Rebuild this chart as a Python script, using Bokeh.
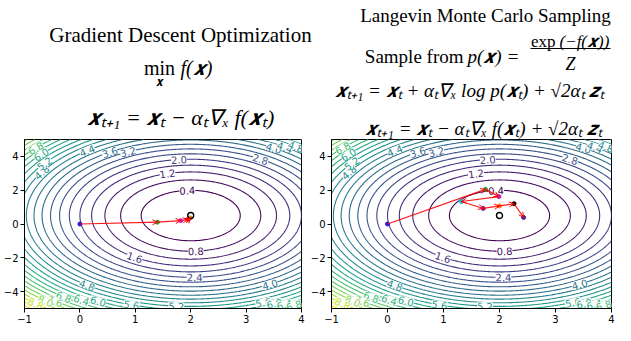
import numpy as np
from bokeh.plotting import figure
from bokeh.layouts import row, column
from bokeh.models import Range1d, FixedTicker, Arrow, OpenHead, ColumnDataSource
from bokeh.palettes import viridis
from bokeh.core.properties import value
from bokeh.embed import file_html
from bokeh.resources import INLINE

# ---- objective f(x) = COEF_X*(x1-MU_X)^2 + COEF_Y*(x2-MU_Y)^2 ----
MU_X, MU_Y = 2.0, 0.5
COEF_X, COEF_Y = 0.5, 0.18
LEVELS = [0.4, 0.8, 1.2, 1.6, 2.0, 2.4, 2.8, 3.2, 3.6, 4.0, 4.4, 4.8,
          5.2, 5.6, 6.0, 6.4, 6.8, 7.2, 7.6, 8.0, 8.4, 8.8, 9.2, 9.6]
X_TICKS = [-1, 0, 1, 2, 3, 4]
Y_TICKS = [-4, -2, 0, 2, 4]

# gradient descent iterates
GD_X = [0.0, 1.40, 1.82, 1.95, 1.98, 1.99]
GD_Y = [0.0, 0.11, 0.20, 0.27, 0.32, 0.36]
GD_COLORS = ["#1f1fe0", "#2ca02c", "#d62ad6", "#d62728", "#e377c2", "#ff7f0e"]

# Langevin iterates
LMC_X = [0.0, 1.75, 1.99, 1.32, 1.71, 2.00, 2.26, 2.43]
LMC_Y = [0.0, 2.05, 1.62, 1.33, 0.92, 1.07, 1.20, 0.39]
LMC_COLORS = ["#1f1fe0", "#2ca02c", "#c020c0", "#17becf", "#7f1fa0", "#ff7f0e", "#000000", "#4b1fa0"]

# contour labels: (level, side, x position along the contour)
CLABELS = [
    (0.4, "top", 1.94), (1.2, "top", 1.58), (2.0, "top", 1.79), (2.8, "top", 3.26),
    (3.2, "top", 0.87), (3.6, "top", 0.54), (4.4, "top", 0.13),
    (4.0, "top", 3.50), (4.4, "top", 3.70), (4.8, "top", 3.90),
    (4.8, "top", -0.69), (5.2, "top", -0.64), (6.0, "top", -0.70), (6.8, "top", -0.80),
    (0.8, "bottom", 2.09), (1.6, "bottom", 0.99), (2.4, "bottom", 2.07), (4.0, "bottom", 3.43),
    (4.8, "bottom", 0.13), (5.2, "bottom", 1.74), (5.6, "bottom", 0.93),
    (6.0, "bottom", 0.33), (6.4, "bottom", 0.03), (6.8, "bottom", -0.29),
    (5.6, "bottom", 3.31), (6.0, "bottom", 3.51), (6.4, "bottom", 3.69), (6.8, "bottom", 3.86),
    (7.6, "bottom", -0.45), (8.0, "bottom", -0.62), (8.8, "bottom", -0.80),
]

COLORS = list(viridis(len(LEVELS)))
MINUS = "\u2212"
SERIF = value("Liberation Serif")

PLOT_H = 186
HEAD_H = 139
LW, RW = 307, 308
TOTAL_W = LW + RW

X = "\U0001D499"   # bold italic x
Z_ = "\U0001D49B"  # bold italic z
T = "\u209C"       # subscript t


def tick_text(v):
    return (MINUS + str(-v)) if v < 0 else str(v)


def make_panel(width, left, right, px, py, pcolors):
    p = figure(width=width, height=PLOT_H, x_range=Range1d(-1, 4), y_range=Range1d(-5, 5),
               output_backend="svg", toolbar_location=None,
               min_border_left=left, min_border_right=right, min_border_top=0, min_border_bottom=0)
    p.xgrid.visible = False
    p.ygrid.visible = False
    p.outline_line_color = "black"
    p.outline_line_width = 1
    p.background_fill_color = "white"

    gx = np.linspace(-1, 4, 240)
    gy = np.linspace(-5, 5, 240)
    GX, GY = np.meshgrid(gx, gy)
    Z = COEF_X * (GX - MU_X) ** 2 + COEF_Y * (GY - MU_Y) ** 2
    p.contour(gx, gy, Z, LEVELS, line_color=COLORS, line_width=1.1)

    # contour labels
    fw = width - left - right
    fh = PLOT_H - 20
    sx, sy = fw / 5.0, fh / 10.0
    lx, ly, lt, la, lc = [], [], [], [], []
    for lev, side, xv in CLABELS:
        r = (lev - COEF_X * (xv - MU_X) ** 2) / COEF_Y
        if r <= 0:
            continue
        yv = MU_Y + (np.sqrt(r) if side == "top" else -np.sqrt(r))
        dfdu = 2 * COEF_X * (xv - MU_X) / sx
        dfdv = 2 * COEF_Y * (yv - MU_Y) / sy
        ang = np.arctan2(dfdu, -dfdv)
        if ang > np.pi / 2:
            ang -= np.pi
        if ang < -np.pi / 2:
            ang += np.pi
        lx.append(xv); ly.append(yv); lt.append(f"{lev:.1f}"); la.append(ang)
        lc.append(COLORS[LEVELS.index(lev)])
    src = ColumnDataSource(dict(x=lx, y=ly, text=lt, angle=la, color=lc))
    p.text(x="x", y="y", text="text", angle="angle", text_color="color", source=src,
           text_font=value("DejaVu Sans"), text_font_size=value("10px"),
           text_align="center", text_baseline="middle",
           background_fill_color="white")

    # path arrows
    asrc = ColumnDataSource(dict(x0=px[:-1], y0=py[:-1], x1=px[1:], y1=py[1:]))
    p.add_layout(Arrow(end=OpenHead(size=5, line_color="red", line_width=1),
                       source=asrc, x_start="x0", y_start="y0", x_end="x1", y_end="y1",
                       line_color="red", line_width=1.2, line_alpha=0.9))
    p.scatter(px, py, size=4, color=pcolors)
    p.scatter([MU_X], [MU_Y], size=6, fill_color=None, line_color="black", line_width=1.4)

    for ax in (p.xaxis[0], p.yaxis[0]):
        ax.major_tick_in = 0
        ax.major_tick_out = 4
        ax.minor_tick_in = 0
        ax.minor_tick_out = 0
        ax.major_label_standoff = 2
        ax.axis_line_color = "black"
        ax.major_tick_line_color = "black"
        ax.major_label_text_color = "black"
        ax.major_label_text_font = "DejaVu Sans"
        ax.major_label_text_font_size = "10px"
    p.xaxis.ticker = FixedTicker(ticks=X_TICKS)
    p.yaxis.ticker = FixedTicker(ticks=Y_TICKS)
    p.xaxis.major_label_overrides = {v: tick_text(v) for v in X_TICKS}
    p.yaxis.major_label_overrides = {v: tick_text(v) for v in Y_TICKS}
    return p


h = figure(width=TOTAL_W, height=HEAD_H, x_range=Range1d(0, TOTAL_W), y_range=Range1d(0, HEAD_H),
           output_backend="svg", toolbar_location=None, min_border=0,
           x_axis_type=None, y_axis_type=None)
h.xgrid.visible = False
h.ygrid.visible = False
h.outline_line_color = None


def txt(x, y, s, size, align="center", style="normal"):
    h.text(x=[x], y=[y], text=[s], text_font=SERIF, text_font_size=value(size),
           text_align=align, text_baseline="alphabetic", text_color="black",
           text_font_style=style)


# left header
txt(180, 105, "Gradient Descent Optimization", "21px")
txt(159, 72, "min", "20px")
txt(159, 58, X, "12px")
txt(180, 72, f"f({X})", "20px", align="left", style="italic")
txt(180, 22, f"{X}{T}\u208A\u2081 = {X}{T} \u2212 \u03B1{T}\u2207\u2093 f({X}{T})",
    "22px", style="italic")

# right header
R = LW
txt(R + 178, 124, "Langevin Monte Carlo Sampling", "19px")
txt(R + 156, 83, "Sample from", "19px", align="right")
txt(R + 160, 83, f"p({X}) =", "19px", align="left", style="italic")
txt(R + 248, 98, "exp", "17px", align="right")
txt(R + 252, 98, f"(\u2212f({X}))", "17px", align="left", style="italic")
h.segment(x0=[R + 223], y0=[91], x1=[R + 303], y1=[91], line_color="black", line_width=1)
txt(R + 263, 76, "Z", "18px", style="italic")
txt(R + 162, 49, f"{X}{T}\u208A\u2081 = {X}{T} + \u03B1{T}\u2207\u2093 log p({X}{T}) + \u221A2\u03B1{T} {Z_}{T}",
    "19px", style="italic")
txt(R + 176, 11, f"{X}{T}\u208A\u2081 = {X}{T} \u2212 \u03B1{T}\u2207\u2093 f({X}{T}) + \u221A2\u03B1{T} {Z_}{T}",
    "19px", style="italic")

p1 = make_panel(LW, 20, 6, GD_X, GD_Y, GD_COLORS)
p2 = make_panel(RW, 20, 4, LMC_X, LMC_Y, LMC_COLORS)

layout = column(h, row(p1, p2))
open("out.html", "w").write(file_html(layout, INLINE))
